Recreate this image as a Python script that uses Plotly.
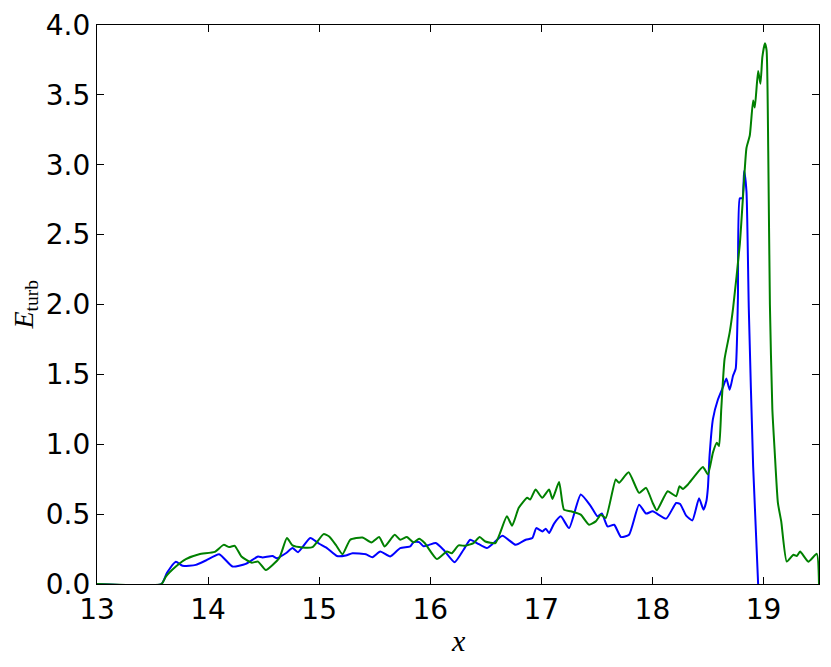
import plotly.graph_objects as go

# blue run
blue_x = [13.0, 13.58, 13.63, 13.71, 13.77, 13.89, 13.98, 14.10, 14.22, 14.34, 14.45, 14.49,
          14.58, 14.62, 14.70, 14.76, 14.81, 14.92, 15.00, 15.07, 15.16, 15.24, 15.30, 15.42,
          15.48, 15.55, 15.64, 15.73, 15.82, 15.85, 15.90, 15.94, 15.99, 16.05, 16.12, 16.22,
          16.30, 16.36, 16.42, 16.51, 16.57, 16.65, 16.77, 16.86, 16.92, 16.955, 17.01, 17.04,
          17.07, 17.115, 17.175, 17.25, 17.355, 17.446, 17.505, 17.545, 17.596, 17.656, 17.717,
          17.79, 17.88, 17.943, 18.003, 18.124, 18.214, 18.25, 18.304, 18.36, 18.42, 18.46,
          18.486, 18.50, 18.515, 18.545, 18.59, 18.636, 18.666, 18.696, 18.726, 18.75, 18.77,
          18.787, 18.81, 18.826, 18.847, 18.868, 18.907, 18.952]
blue_y = [0.0, 0.0, 0.08, 0.16, 0.13, 0.137, 0.168, 0.213, 0.125, 0.144, 0.197, 0.19,
          0.20, 0.185, 0.22, 0.257, 0.228, 0.329, 0.288, 0.257, 0.20, 0.204, 0.22, 0.213,
          0.192, 0.232, 0.197, 0.257, 0.269, 0.30, 0.30, 0.27, 0.28, 0.293, 0.245, 0.156,
          0.245, 0.317, 0.293, 0.257, 0.293, 0.345, 0.28, 0.317, 0.329, 0.40, 0.376, 0.396,
          0.365, 0.432, 0.484, 0.40, 0.64, 0.556, 0.484, 0.504, 0.412, 0.424, 0.336,
          0.353, 0.568, 0.504, 0.52, 0.468, 0.58, 0.572, 0.489, 0.455, 0.613, 0.532,
          0.592, 0.69, 0.92, 1.18, 1.32, 1.41, 1.47, 1.39, 1.49, 1.54, 2.04,
          2.76, 2.76, 2.955, 2.81, 1.97, 0.844, 0.0]

# green run
green_x = [13.0, 13.58, 13.62, 13.71, 13.80, 13.92, 14.06, 14.14, 14.19, 14.24, 14.30, 14.39,
           14.45, 14.52, 14.64, 14.71, 14.76, 14.85, 14.94, 15.04, 15.09, 15.15, 15.21, 15.28,
           15.39, 15.47, 15.54, 15.59, 15.68, 15.73, 15.79, 15.85, 15.90, 15.95, 16.06, 16.15,
           16.194, 16.255, 16.316, 16.39, 16.445, 16.496, 16.587, 16.69, 16.737, 16.797, 16.873,
           16.90, 16.948, 17.008, 17.07, 17.10, 17.16, 17.204, 17.265, 17.355, 17.43, 17.49,
           17.536, 17.58, 17.67, 17.70, 17.786, 17.88, 17.943, 18.003, 18.04, 18.138, 18.214,
           18.244, 18.274, 18.32, 18.38, 18.455, 18.50, 18.545, 18.58, 18.60, 18.62, 18.65,
           18.696, 18.726, 18.787, 18.823, 18.847, 18.877, 18.907, 18.922, 18.952, 18.973,
           18.99, 19.013, 19.028, 19.043, 19.058, 19.08, 19.10, 19.13, 19.16, 19.21, 19.27,
           19.30, 19.33, 19.404, 19.48, 19.5]
green_y = [0.0, 0.0, 0.053, 0.125, 0.178, 0.213, 0.23, 0.28, 0.264, 0.273, 0.197, 0.153,
           0.16, 0.10, 0.185, 0.329, 0.276, 0.261, 0.264, 0.357, 0.34, 0.28, 0.213, 0.317,
           0.333, 0.297, 0.336, 0.269, 0.353, 0.317, 0.336, 0.297, 0.324, 0.293, 0.178, 0.232,
           0.22, 0.276, 0.273, 0.293, 0.336, 0.304, 0.293, 0.484, 0.417, 0.545, 0.617,
           0.604, 0.676, 0.617, 0.676, 0.609, 0.729, 0.532, 0.52, 0.496, 0.424, 0.448,
           0.496, 0.472, 0.748, 0.724, 0.80, 0.652, 0.688, 0.58, 0.527, 0.664, 0.628,
           0.70, 0.68, 0.712, 0.772, 0.837, 0.784, 0.94, 1.01, 0.988, 1.25, 1.61,
           1.80, 1.97, 2.43, 2.86, 3.12, 3.21, 3.46, 3.41, 3.67, 3.58,
           3.77, 3.87, 3.82, 3.10, 2.0, 1.25, 0.964, 0.58, 0.448, 0.16, 0.209,
           0.20, 0.232, 0.16, 0.216, 0.0]

x_ticks = [13, 14, 15, 16, 17, 18, 19]
y_ticks = [0.0, 0.5, 1.0, 1.5, 2.0, 2.5, 3.0, 3.5, 4.0]

fig = go.Figure()
fig.add_trace(go.Scatter(x=blue_x, y=blue_y, mode="lines",
                         line=dict(color="#0000ff", width=2, shape="spline", smoothing=0.5)))
fig.add_trace(go.Scatter(x=green_x, y=green_y, mode="lines",
                         line=dict(color="#008000", width=2, shape="spline", smoothing=0.5)))

axis_style = dict(showline=True, linecolor="black", linewidth=1.3, mirror="allticks",
                  ticks="inside", ticklen=7, tickwidth=1, tickcolor="black",
                  showgrid=False, zeroline=False, automargin=False,
                  tickfont=dict(family="DejaVu Sans", size=28, color="black"))

fig.update_xaxes(range=[13, 19.5], tickvals=x_ticks, ticktext=[str(t) for t in x_ticks], **axis_style)
fig.update_yaxes(range=[0, 4.0], tickvals=y_ticks, ticktext=[f"{t:.1f}" for t in y_ticks], **axis_style)

# axis titles as annotations so they sit where the reference has them
fig.add_annotation(text="<i>x</i>", xref="paper", yref="paper", x=0.5, y=0,
                   xanchor="center", yanchor="middle", yshift=-56, showarrow=False,
                   font=dict(family="Liberation Serif", size=30, color="black"))
fig.add_annotation(text="<i>E</i><sub>turb</sub>", xref="paper", yref="paper", x=0, y=0.5,
                   xanchor="center", yanchor="middle", xshift=-72, textangle=-90,
                   showarrow=False,
                   font=dict(family="Liberation Serif", size=28, color="black"))

# page body adds an 8px margin, so the figure is 8px smaller each way
fig.update_layout(width=823, height=659, showlegend=False,
                  margin=dict(l=89, r=12, t=17, b=83),
                  plot_bgcolor="white", paper_bgcolor="white")

fig.write_html("out.html")
